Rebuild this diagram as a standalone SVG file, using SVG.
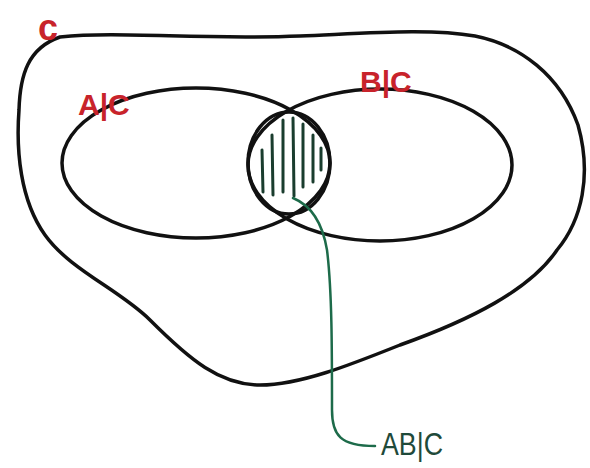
<svg xmlns="http://www.w3.org/2000/svg" width="590" height="468" viewBox="0 0 590 468">
<style>
.ln{fill:none;stroke:#111;stroke-width:3.5;stroke-linecap:round;stroke-linejoin:round}
.red{font-family:"Liberation Sans",Arial,sans-serif;font-weight:bold;fill:#c8232b}
.grn{fill:none;stroke:#1d6b4a;stroke-width:2.5;stroke-linecap:round}
.hatch{fill:none;stroke:#1a3d2e;stroke-width:3;stroke-linecap:round}
</style>
<rect width="590" height="468" fill="#fff"/>
<g id="C">
<path class="ln" d="M60,37 C120,31 200,40 300,36 C370,33 430,28 475,36 C520,45 560,75 578,125 C592,175 582,220 557,250 C530,290 470,320 400,345 C350,365 300,385 260,385 C220,385 190,360 150,320 C120,290 70,270 45,235 C20,200 16,150 19,110 C20,75 28,48 60,37 Z"/>
<text class="red" x="38" y="40" font-size="36">c</text>
</g>
<g id="AC">
<ellipse class="ln" cx="196" cy="163" rx="134" ry="75"/>
<text class="red" x="78" y="115" font-size="30">A|C</text>
</g>
<g id="BC">
<ellipse class="ln" cx="380" cy="165" rx="132" ry="76"/>
<text class="red" x="360" y="92" font-size="30">B|C</text>
</g>
<g id="ABC">
<ellipse class="ln" cx="289" cy="163" rx="41" ry="51"/>
<g class="hatch">
<line x1="262" y1="150" x2="263" y2="192"/>
<line x1="272" y1="135" x2="273" y2="195"/>
<line x1="283" y1="120" x2="283" y2="192"/>
<line x1="293" y1="118" x2="294" y2="196"/>
<line x1="303" y1="124" x2="303" y2="187"/>
<line x1="313" y1="135" x2="313" y2="182"/>
<line x1="321" y1="148" x2="321" y2="170"/>
</g>
</g>
<g id="connectors">
<path class="grn" d="M293,198 C310,205 322,220 327,250 C332,290 332,350 332,410 C332,435 340,446 375,446"/>
</g>
<g id="label">
<text x="381" y="455" font-family="'Liberation Sans',Arial,sans-serif" font-size="32" fill="#1f4a3a" textLength="62" lengthAdjust="spacingAndGlyphs">AB|C</text>
</g>
</svg>
